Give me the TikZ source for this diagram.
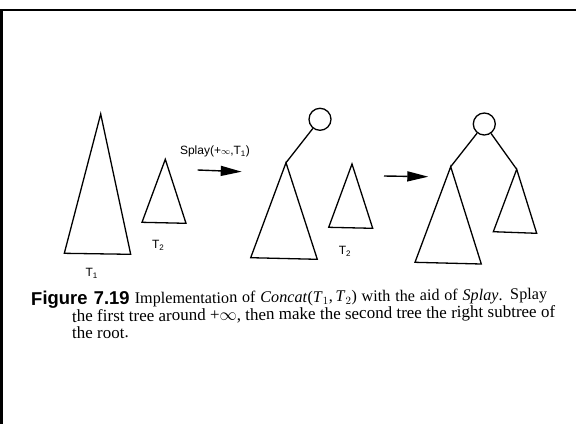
\documentclass[tikz,border=0pt]{standalone}
\usepackage{fontspec}
\setmainfont{Liberation Serif}
\newfontfamily\helv{Liberation Sans}
\usetikzlibrary{arrows.meta}
\begin{document}
\begin{tikzpicture}[x=1pt,y=-1pt,
  tri/.style={line width=1.3pt,line join=miter},
  rootnode/.style={circle,draw,line width=1.3pt,minimum size=22pt,inner sep=0pt},
  edge/.style={line width=1.3pt},
  bigarrow/.style={line width=1.4pt,-{Triangle[length=21pt,width=10pt]}},
  lab/.style={font=\helv\fontsize{12}{14}\selectfont,inner sep=0pt},
  capline/.style={anchor=base west,inner sep=0pt,rotate=0.6,font=\fontsize{17}{19}\selectfont}]
\useasboundingbox (0,0) rectangle (576,424);
% frame
\draw[line width=2.6pt] (576,9.8) -- (1.8,9.8) -- (1.8,424);
% first tree T1
\coordinate (t1a) at (100.7,114);
\coordinate (t1l) at (64.3,253.3);
\coordinate (t1r) at (130.7,254.3);
\draw[tri] (t1a) -- (t1l) -- (t1r) -- cycle;
\node[lab] (t1lab) at (91.7,273) {T\textsubscript{1}};
% T2
\coordinate (t2a) at (165.3,159.3);
\coordinate (t2l) at (142,222.3);
\coordinate (t2r) at (186,223.3);
\draw[tri] (t2a) -- (t2l) -- (t2r) -- cycle;
\node[lab] (t2lab) at (158.3,245) {T\textsubscript{2}};
% arrow 1
\node[lab] (splay) at (215,151.7) {Splay(+{\small$\infty$},T\textsubscript{1})};
\coordinate (a1s) at (197.7,170);
\coordinate (a1e) at (241.7,171.7);
\draw[bigarrow] (a1s) -- (a1e);
% splayed tree
\node[rootnode] (r1) at (320,119.3) {};
\coordinate (b1a) at (286,162.7);
\coordinate (b1l) at (250.7,257.7);
\coordinate (b1r) at (317.3,259.3);
\draw[edge] (r1) -- (b1a);
\draw[tri] (b1a) -- (b1l) -- (b1r) -- cycle;
% T2 again
\coordinate (c2a) at (352,164);
\coordinate (c2l) at (328.7,227.3);
\coordinate (c2r) at (372.7,228.3);
\draw[tri] (c2a) -- (c2l) -- (c2r) -- cycle;
\node[lab] (c2lab) at (345,251.7) {T\textsubscript{2}};
% arrow 2
\coordinate (a2s) at (384,176);
\coordinate (a2e) at (428.3,176.7);
\draw[bigarrow] (a2s) -- (a2e);
% final tree
\node[rootnode] (r2) at (484.3,124) {};
\coordinate (dla) at (450.7,166.7);
\coordinate (dll) at (415,262.3);
\coordinate (dlr) at (481.3,264);
\coordinate (dra) at (516.7,169.3);
\coordinate (drl) at (493.3,231.7);
\coordinate (drr) at (536.7,233.3);
\draw[edge] (r2) -- (dla);
\draw[edge] (r2) -- (dra);
\draw[tri] (dla) -- (dll) -- (dlr) -- cycle;
\draw[tri] (dra) -- (drl) -- (drr) -- cycle;
% caption
\node[capline] (cap1) at (31,305) {\makebox[516pt][s]{{\helv\bfseries\fontsize{18.5}{20}\selectfont Figure 7.19} {\fontsize{16.2}{19}\selectfont Implementation of \textit{Concat}(\textit{T}$_1$,\,\textit{T}$_2$) with the aid of \textit{Splay}. Splay}}};
\node[capline] (cap2) at (72,322) {\makebox[483pt][s]{the first tree around +$\infty$, then make the second tree the right subtree of}};
\node[capline] (cap3) at (72,338.5) {the root.};
\end{tikzpicture}
\end{document}
